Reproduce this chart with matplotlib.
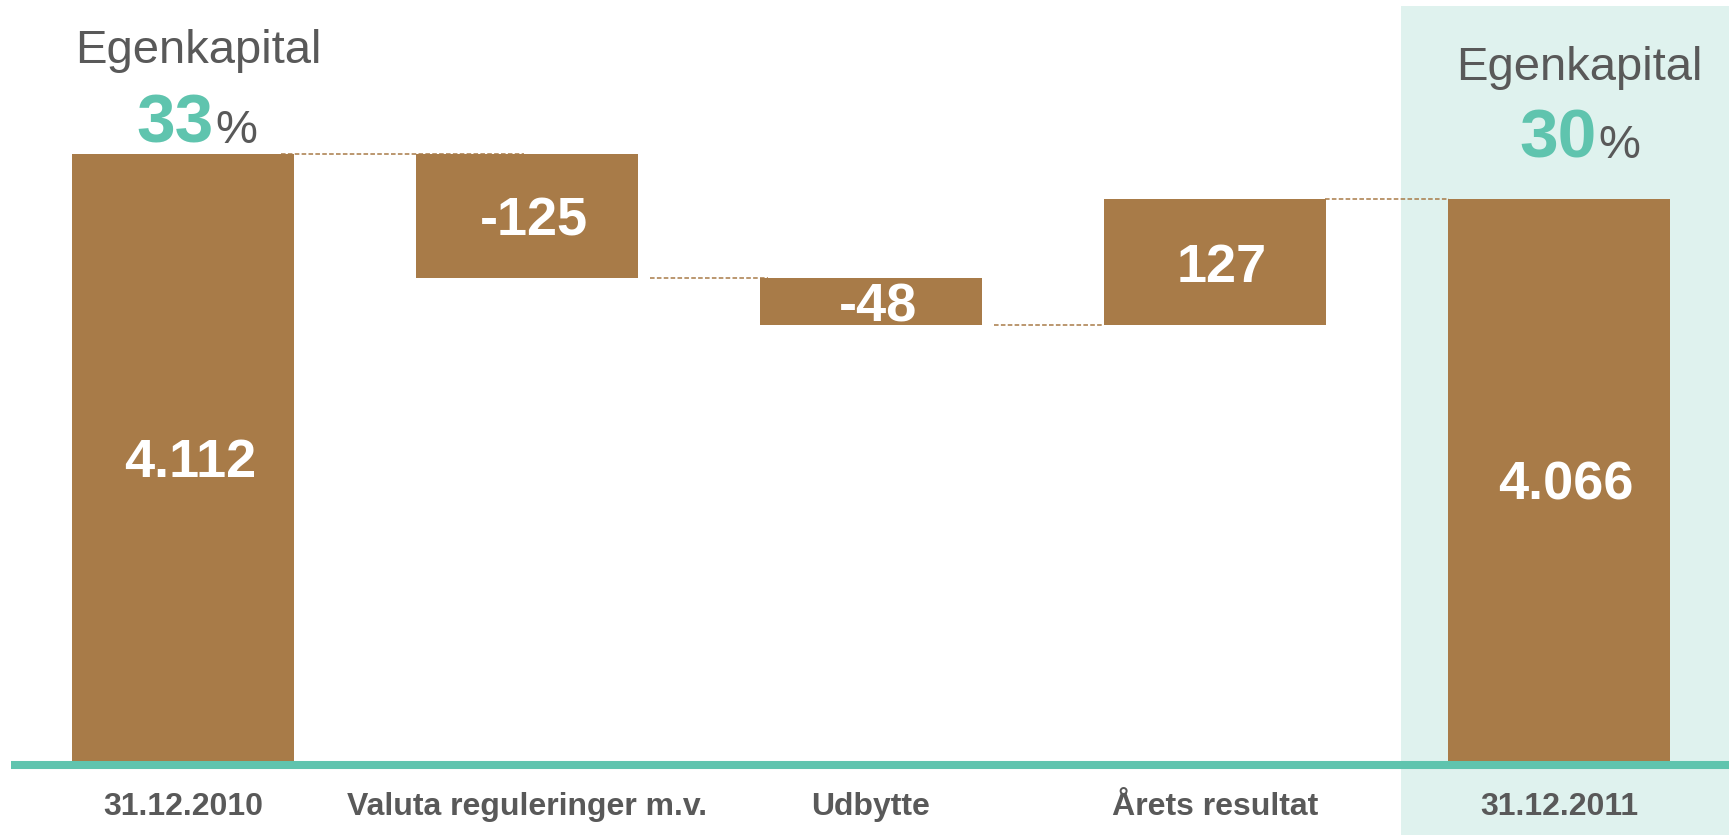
import matplotlib
matplotlib.use('Agg')
import matplotlib.pyplot as plt
import matplotlib.transforms as mtransforms

plt.rcParams['font.family'] = ['Liberation Sans', 'DejaVu Sans']

categories = ['31.12.2010', 'Valuta reguleringer m.v.', 'Udbytte', 'Årets resultat', '31.12.2011']
values = [4112, -125, -48, 127, 4066]
labels = ['4.112', '-125', '-48', '127', '4.066']
is_total = [True, False, False, False, True]
equity_pct = ['33', '30']

brown = '#A87B48'
teal = '#5FC4AE'
shade = '#DFF2EE'
grey = '#595959'
base = 3500

fig = plt.figure(figsize=(17.29, 8.35), dpi=100)
ax = fig.add_axes([0, 0, 1, 1])
ax.set_xlim(-0.532, 4.494)
ax.set_ylim(3425.4, 4267)
ax.axis('off')

# shaded background behind last column
ax.axvspan(3.54, 4.6, ymin=0, ymax=0.993, color=shade, zorder=0, lw=0)

width = 0.6475
running = 0
tops = []
for i, v in enumerate(values):
    if is_total[i]:
        bottom, height = base, v - base
        running = v
    else:
        start = running
        running = running + v
        bottom, height = min(start, running), abs(v)
    ax.bar(i, height, bottom=bottom, width=width, color=brown, zorder=2)
    tops.append(running)
    ax.text(i + 0.02, bottom + height / 2, labels[i], color='white', fontsize=39,
            fontweight='bold', ha='center', va='center_baseline', zorder=4)

# dashed connectors
conn = [(0.285, 0.99), (1.358, 1.701), (2.357, 2.674), (3.32, 3.68)]
for i, (x0, x1) in enumerate(conn):
    ax.plot([x0, x1], [tops[i], tops[i]], color=brown, lw=1.1,
            ls=(0, (3, 1.5)), zorder=3)

# teal baseline
ax.hlines(3496, -0.5, 4.6, color=teal, lw=5.8, zorder=3)

# category labels
trans = mtransforms.blended_transform_factory(ax.transData, ax.transAxes)
for i, c in enumerate(categories):
    ax.text(i, 0.034, c, transform=trans, ha='center', va='center',
            fontsize=23, fontweight='bold', color=grey)

# equity ratio headers
ax.text(0.045, 4203.6, 'Egenkapital', ha='center', va='baseline', fontsize=34, color=grey)
ax.text(0.09, 4123, equity_pct[0], ha='right', va='baseline', fontsize=50,
        fontweight='bold', color=teal)
ax.text(0.095, 4123, '%', ha='left', va='baseline', fontsize=34, color=grey)

ax.text(4.06, 4186.5, 'Egenkapital', ha='center', va='baseline', fontsize=34, color=grey)
ax.text(4.11, 4107.9, equity_pct[1], ha='right', va='baseline', fontsize=50,
        fontweight='bold', color=teal)
ax.text(4.115, 4107.9, '%', ha='left', va='baseline', fontsize=34, color=grey)

fig.savefig('out.png', dpi=100)
